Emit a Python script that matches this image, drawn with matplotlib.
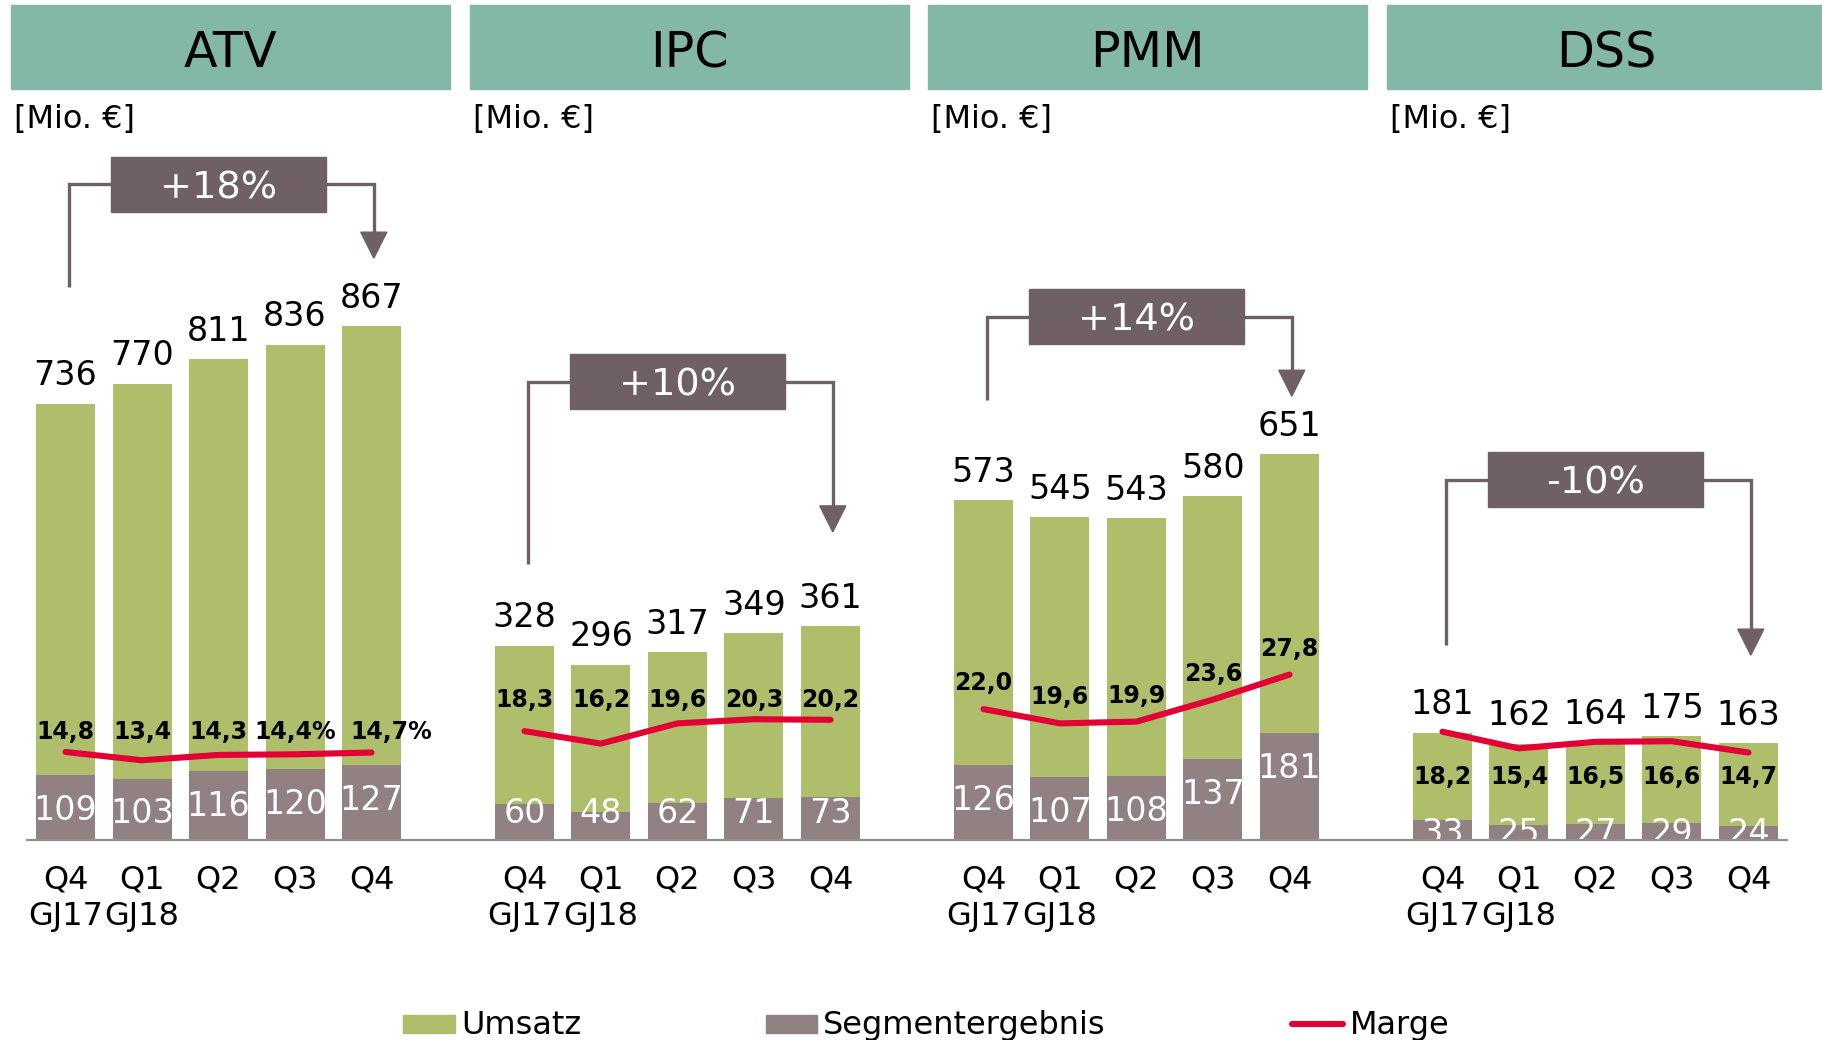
import matplotlib
matplotlib.use("Agg")
import matplotlib.pyplot as plt
from matplotlib.patches import Rectangle, Polygon
from matplotlib.lines import Line2D
import matplotlib.transforms as mtransforms

plt.rcParams['font.family'] = ['DejaVu Sans']

# ---------------- data ----------------
segments = ["ATV", "IPC", "PMM", "DSS"]
quarters = ["Q4", "Q1", "Q2", "Q3", "Q4"]
years = ["GJ17", "GJ18", "", "", ""]

umsatz_atv = [736, 770, 811, 836, 867]
umsatz_ipc = [328, 296, 317, 349, 361]
umsatz_pmm = [573, 545, 543, 580, 651]
umsatz_dss = [181, 162, 164, 175, 163]

ergebnis_atv = [109, 103, 116, 120, 127]
ergebnis_ipc = [60, 48, 62, 71, 73]
ergebnis_pmm = [126, 107, 108, 137, 181]
ergebnis_dss = [33, 25, 27, 29, 24]

marge_atv = [14.8, 13.4, 14.3, 14.4, 14.7]
marge_ipc = [18.3, 16.2, 19.6, 20.3, 20.2]
marge_pmm = [22.0, 19.6, 19.9, 23.6, 27.8]
marge_dss = [18.2, 15.4, 16.5, 16.6, 14.7]

marge_labels_atv = ["14,8", "13,4", "14,3", "14,4%", "14,7%"]
marge_labels_ipc = ["18,3", "16,2", "19,6", "20,3", "20,2"]
marge_labels_pmm = ["22,0", "19,6", "19,9", "23,6", "27,8"]
marge_labels_dss = ["18,2", "15,4", "16,5", "16,6", "14,7"]

growth = ["+18%", "+10%", "+14%", "-10%"]

umsatz = [umsatz_atv, umsatz_ipc, umsatz_pmm, umsatz_dss]
ergebnis = [ergebnis_atv, ergebnis_ipc, ergebnis_pmm, ergebnis_dss]
marge = [marge_atv, marge_ipc, marge_pmm, marge_dss]
marge_labels = [marge_labels_atv, marge_labels_ipc, marge_labels_pmm, marge_labels_dss]

# ---------------- style / layout ----------------
C_HEAD = "#83B7A7"
C_GREEN = "#AEBE6A"
C_SEG = "#928183"
C_DARK = "#6F6063"
C_RED = "#E30034"
C_AXIS = "#8F8F8F"

FS_VAL = 24
FS_TICK = 23
FS_MARGE = 17
FS_HEAD = 35.5
FS_GROWTH = 27.5
FS_LEG = 23

W, H = 1822, 1040
def fx(px): return px / W
def fy(py): return 1 - py / H

# bracket layout per panel (in Umsatz units)
bracket_level = [1107, 773, 883, 608]
bracket_left_bottom = [933, 466, 743, 329]
bracket_tip = [982, 520, 749, 312]
# margin label placement: flat level (panel max) or per-point, offset in px
label_flat = [True, True, False, True]
label_off_px = [20, 19, 26, -45]
label_dx_px = [[0, 0, 0, 0, 20], [0] * 5, [0] * 5, [0] * 5]
# segment label: centre 32 px below segment top, but not lower than floor (px)
seg_label_floor_px = [30, 30, 30, 10]

fig = plt.figure(figsize=(W / 100, H / 100), dpi=100)
ax = fig.add_axes([fx(27), fy(840), fx(1787 - 27), 840 / H])
px_per_unit = 0.5925
px_per_pct = 5.95
ax.set_xlim((27 - 65.5) / 76.5, (1787 - 65.5) / 76.5)
ax.set_ylim(0, 840 / px_per_unit)
ax2 = ax.twinx()
ax2.set_ylim(0, 840 / px_per_pct)

for a in (ax, ax2):
    for s in ("top", "right", "left", "bottom"):
        a.spines[s].set_visible(False)
    a.set_xticks([])
    a.set_yticks([])
ax.spines["bottom"].set_visible(True)
ax.spines["bottom"].set_color(C_AXIS)
ax.spines["bottom"].set_linewidth(1.6)
ax.spines["bottom"].set_zorder(5)

bw = 59 / 76.5
lab_tr = mtransforms.blended_transform_factory(ax.transData, fig.transFigure)

for p, name in enumerate(segments):
    xs = [6 * p + j for j in range(5)]
    ax.bar(xs, umsatz[p], width=bw, color=C_GREEN, zorder=2)
    ax.bar(xs, ergebnis[p], width=bw, color=C_SEG, zorder=3)
    for x, u, e in zip(xs, umsatz[p], ergebnis[p]):
        ax.annotate(str(u), (x, u), xytext=(0, 8.3), textcoords="offset points",
                    ha="center", va="bottom", fontsize=FS_VAL, color="black")
        ypx = max(e * px_per_unit - 32, seg_label_floor_px[p])
        ax.text(x, ypx / px_per_unit, str(e), ha="center", va="center_baseline",
                fontsize=FS_VAL, color="white", clip_on=True, zorder=4)
    # margin line
    ax2.plot(xs, marge[p], color=C_RED, lw=4.4, solid_capstyle="round",
             solid_joinstyle="round", zorder=6)
    mmax = max(marge[p])
    for x, m, lbl, dx in zip(xs, marge[p], marge_labels[p], label_dx_px[p]):
        base = mmax if label_flat[p] else m
        ax2.annotate(lbl, (x, base), xytext=(dx * 0.72, label_off_px[p] * 0.72),
                     textcoords="offset points", ha="center", va="center",
                     fontsize=FS_MARGE, fontweight="bold", color="black", zorder=7)
    # category labels
    for x, q, y in zip(xs, quarters, years):
        ax.text(x, fy(889), q, transform=lab_tr, ha="center", va="baseline",
                fontsize=FS_TICK, clip_on=False)
        if y:
            ax.text(x, fy(925), y, transform=lab_tr, ha="center", va="baseline",
                    fontsize=FS_TICK, clip_on=False)
    # growth bracket
    xl = xs[0] + 0.05
    xr = xs[4] + 0.03
    yl = bracket_level[p]
    tri_h = 26 / px_per_unit
    tip = bracket_tip[p]
    ax.plot([xl, xl, xr, xr], [bracket_left_bottom[p], yl, yl, tip + tri_h],
            color=C_DARK, lw=2.4, solid_joinstyle="miter", solid_capstyle="butt", zorder=2)
    ax.add_patch(Polygon([(xr - 0.17, tip + tri_h), (xr + 0.17, tip + tri_h), (xr, tip)],
                         closed=True, color=C_DARK, zorder=2))
    xc = xs[2]
    bh = 55 / px_per_unit
    ax.add_patch(Rectangle((xc - 1.4, yl - bh / 2), 2.8, bh, color=C_DARK, zorder=3))
    ax.text(xc, yl, growth[p], ha="center", va="center_baseline", color="white",
            fontsize=FS_GROWTH, zorder=4)

    # header
    x0 = 11 + 458.5 * p
    fig.add_artist(Rectangle((fx(x0), fy(89)), fx(439), 84 / H,
                             transform=fig.transFigure, color=C_HEAD))
    fig.text(fx(x0 + 219.5), fy(48), name, ha="center", va="center_baseline",
             fontsize=FS_HEAD, color="black")
    fig.text(fx(14 + 458.5 * p), fy(127.7), "[Mio. €]", ha="left", va="baseline",
             fontsize=FS_TICK, color="black")

# legend
fig.add_artist(Rectangle((fx(403), fy(1033)), fx(52), 18 / H,
                         transform=fig.transFigure, color=C_GREEN))
fig.text(fx(461), fy(1034), "Umsatz", ha="left", va="baseline", fontsize=FS_LEG)
fig.add_artist(Rectangle((fx(766), fy(1033)), fx(51), 18 / H,
                         transform=fig.transFigure, color=C_SEG))
fig.text(fx(823), fy(1034), "Segmentergebnis", ha="left", va="baseline", fontsize=FS_LEG)
fig.add_artist(Line2D([fx(1292), fx(1343)], [fy(1024), fy(1024)],
                      transform=fig.transFigure, color=C_RED, lw=4.4,
                      solid_capstyle="round"))
fig.text(fx(1350), fy(1034), "Marge", ha="left", va="baseline", fontsize=FS_LEG)

fig.savefig("out.png", dpi=100)
